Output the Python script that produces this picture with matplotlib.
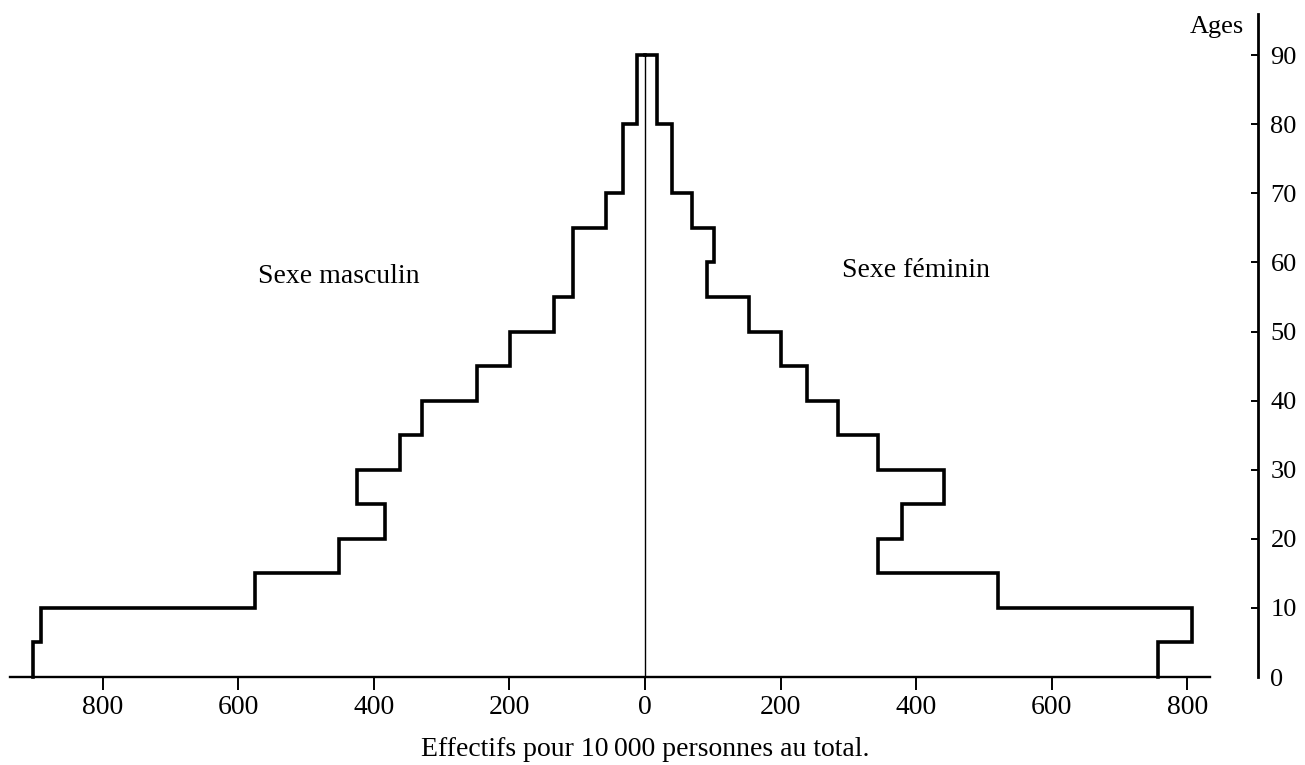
import matplotlib
matplotlib.use("Agg")
import matplotlib.pyplot as plt
import numpy as np

# Data: effectifs pour 10 000 personnes, by age group
age_edges = [0, 5, 10, 15, 20, 25, 30, 35, 40, 45, 50, 55, 60, 65, 70, 80, 90]
hommes = [903, 891, 575, 451, 384, 425, 361, 329, 248, 199, 134, 106, 106, 58, 33, 12]
femmes = [757, 807, 520, 343, 379, 441, 343, 284, 239, 200, 154, 92, 102, 69, 40, 18]
x_ticks = [-800, -600, -400, -200, 0, 200, 400, 600, 800]
age_ticks = [0, 10, 20, 30, 40, 50, 60, 70, 80, 90]

plt.rcParams['font.family'] = ['Liberation Serif', 'DejaVu Serif']
FS = 20

W, H = 1305, 765
fig = plt.figure(figsize=(W / 100, H / 100), dpi=100)

# pixel layout of the plotting area
px_unit = 0.678      # pixels per person
px_year = 6.91       # pixels per year of age
x0_px, y0_px = 645, 677
xmin, xmax = -945, 904
ymax = 96
left = x0_px + xmin * px_unit
ax = fig.add_axes([left / W, (H - y0_px) / H,
                   (xmax - xmin) * px_unit / W, ymax * px_year / H])
ax.set_xlim(xmin, xmax)
ax.set_ylim(0, ymax)

edges = np.array(age_edges)
ys = np.repeat(edges, 2)[1:-1]
m = np.array(hommes)
f = np.array(femmes)

# male outline (left), female outline (right)
ax.plot(np.append(np.repeat(-m, 2), 0), np.append(ys, edges[-1]),
        color='black', lw=2.6, solid_joinstyle='miter', clip_on=False)
ax.plot(np.append(np.repeat(f, 2), 0), np.append(ys, edges[-1]),
        color='black', lw=2.6, solid_joinstyle='miter', clip_on=False)
# centre line
ax.plot([0, 0], [0, edges[-1]], color='black', lw=1.0)

# axes styling
for s in ['top', 'left', 'right']:
    ax.spines[s].set_visible(False)
ax.spines['bottom'].set_linewidth(1.7)
ax.spines['bottom'].set_bounds(-937, 833)
ax.set_yticks([])
ax.set_xticks(x_ticks)
ax.set_xticklabels([str(abs(t)) for t in x_ticks], fontsize=FS)
ax.tick_params(axis='x', direction='out', length=9, width=1.4, pad=4)

# age axis on the right
ax2 = ax.twinx()
ax2.set_ylim(0, ymax)
for s in ['top', 'left', 'bottom']:
    ax2.spines[s].set_visible(False)
ax2.spines['right'].set_linewidth(2.0)
ax2.set_yticks(age_ticks)
ax2.set_yticklabels([str(a) for a in age_ticks], fontsize=FS - 1)
ax2.tick_params(axis='y', direction='in', length=5, width=1.4, pad=9)
ax2.yaxis.get_major_ticks()[0].tick2line.set_visible(False)

# texts
fig.text(1217 / W, 1 - 33 / H, "Ages", fontsize=FS - 1, ha='center', va='baseline')
fig.text(258 / W, 1 - 283 / H, "Sexe masculin", fontsize=FS, ha='left', va='baseline')
fig.text(842 / W, 1 - 277 / H, "Sexe féminin", fontsize=FS, ha='left', va='baseline')
fig.text(645 / W, 1 - 756 / H, "Effectifs pour 10\u2009000 personnes au total.",
         fontsize=FS, ha='center', va='baseline')

fig.savefig("out.png", dpi=100)
